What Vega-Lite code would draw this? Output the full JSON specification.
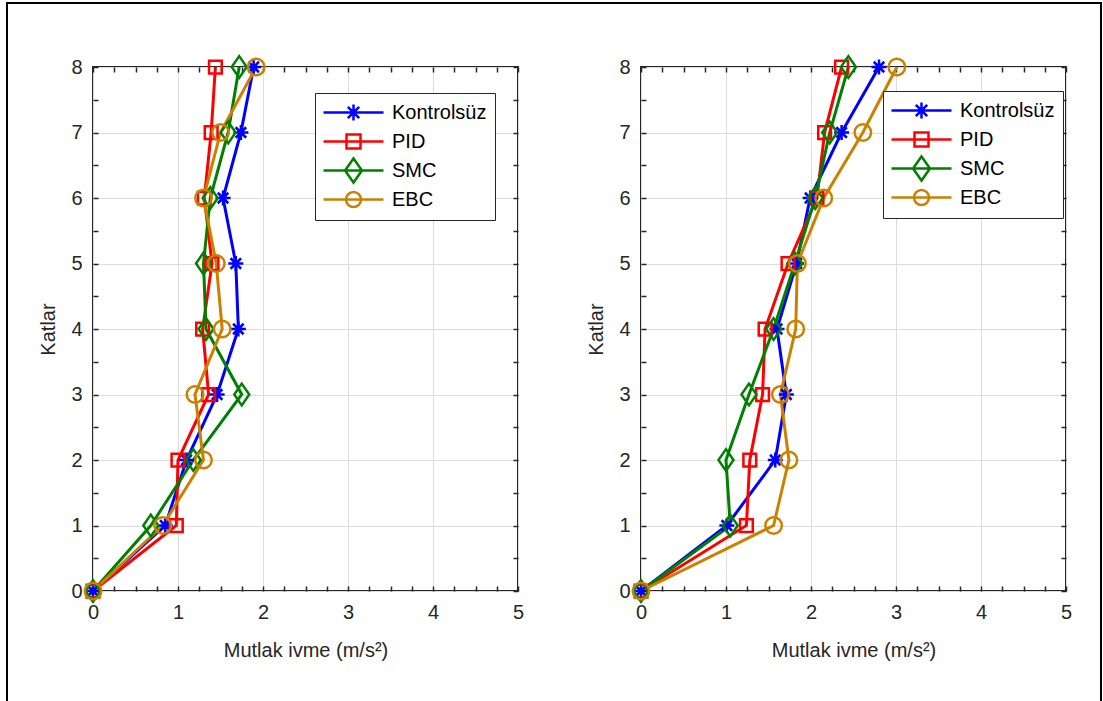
{
  "$schema": "https://vega.github.io/schema/vega-lite/v6.json",
  "background": "white",
  "padding": {"left": 6, "top": 2, "right": 0, "bottom": 0},
  "config": {"font": "Liberation Sans"},
  "datasets": {
    "d": [
      {"p": "a", "s": "Kontrolsüz", "k": 0, "v": 0},
      {"p": "a", "s": "Kontrolsüz", "k": 1, "v": 0.85},
      {"p": "a", "s": "Kontrolsüz", "k": 2, "v": 1.1},
      {"p": "a", "s": "Kontrolsüz", "k": 3, "v": 1.46},
      {"p": "a", "s": "Kontrolsüz", "k": 4, "v": 1.71},
      {"p": "a", "s": "Kontrolsüz", "k": 5, "v": 1.68},
      {"p": "a", "s": "Kontrolsüz", "k": 6, "v": 1.53},
      {"p": "a", "s": "Kontrolsüz", "k": 7, "v": 1.74},
      {"p": "a", "s": "Kontrolsüz", "k": 8, "v": 1.89},
      {"p": "a", "s": "PID", "k": 0, "v": 0},
      {"p": "a", "s": "PID", "k": 1, "v": 0.98},
      {"p": "a", "s": "PID", "k": 2, "v": 1.0},
      {"p": "a", "s": "PID", "k": 3, "v": 1.36},
      {"p": "a", "s": "PID", "k": 4, "v": 1.29},
      {"p": "a", "s": "PID", "k": 5, "v": 1.4},
      {"p": "a", "s": "PID", "k": 6, "v": 1.31},
      {"p": "a", "s": "PID", "k": 7, "v": 1.39},
      {"p": "a", "s": "PID", "k": 8, "v": 1.44},
      {"p": "a", "s": "SMC", "k": 0, "v": 0},
      {"p": "a", "s": "SMC", "k": 1, "v": 0.68},
      {"p": "a", "s": "SMC", "k": 2, "v": 1.18},
      {"p": "a", "s": "SMC", "k": 3, "v": 1.75},
      {"p": "a", "s": "SMC", "k": 4, "v": 1.33},
      {"p": "a", "s": "SMC", "k": 5, "v": 1.3},
      {"p": "a", "s": "SMC", "k": 6, "v": 1.38},
      {"p": "a", "s": "SMC", "k": 7, "v": 1.59},
      {"p": "a", "s": "SMC", "k": 8, "v": 1.72},
      {"p": "a", "s": "EBC", "k": 0, "v": 0},
      {"p": "a", "s": "EBC", "k": 1, "v": 0.82},
      {"p": "a", "s": "EBC", "k": 2, "v": 1.3},
      {"p": "a", "s": "EBC", "k": 3, "v": 1.2},
      {"p": "a", "s": "EBC", "k": 4, "v": 1.52},
      {"p": "a", "s": "EBC", "k": 5, "v": 1.45},
      {"p": "a", "s": "EBC", "k": 6, "v": 1.3},
      {"p": "a", "s": "EBC", "k": 7, "v": 1.5},
      {"p": "a", "s": "EBC", "k": 8, "v": 1.92},
      {"p": "b", "s": "Kontrolsüz", "k": 0, "v": 0},
      {"p": "b", "s": "Kontrolsüz", "k": 1, "v": 1.01},
      {"p": "b", "s": "Kontrolsüz", "k": 2, "v": 1.58},
      {"p": "b", "s": "Kontrolsüz", "k": 3, "v": 1.71},
      {"p": "b", "s": "Kontrolsüz", "k": 4, "v": 1.6},
      {"p": "b", "s": "Kontrolsüz", "k": 5, "v": 1.83},
      {"p": "b", "s": "Kontrolsüz", "k": 6, "v": 1.99},
      {"p": "b", "s": "Kontrolsüz", "k": 7, "v": 2.36},
      {"p": "b", "s": "Kontrolsüz", "k": 8, "v": 2.8},
      {"p": "b", "s": "PID", "k": 0, "v": 0},
      {"p": "b", "s": "PID", "k": 1, "v": 1.24},
      {"p": "b", "s": "PID", "k": 2, "v": 1.28},
      {"p": "b", "s": "PID", "k": 3, "v": 1.43},
      {"p": "b", "s": "PID", "k": 4, "v": 1.46},
      {"p": "b", "s": "PID", "k": 5, "v": 1.73},
      {"p": "b", "s": "PID", "k": 6, "v": 2.07},
      {"p": "b", "s": "PID", "k": 7, "v": 2.16},
      {"p": "b", "s": "PID", "k": 8, "v": 2.36},
      {"p": "b", "s": "SMC", "k": 0, "v": 0},
      {"p": "b", "s": "SMC", "k": 1, "v": 1.05},
      {"p": "b", "s": "SMC", "k": 2, "v": 1.0},
      {"p": "b", "s": "SMC", "k": 3, "v": 1.27},
      {"p": "b", "s": "SMC", "k": 4, "v": 1.56},
      {"p": "b", "s": "SMC", "k": 5, "v": 1.81},
      {"p": "b", "s": "SMC", "k": 6, "v": 2.05},
      {"p": "b", "s": "SMC", "k": 7, "v": 2.22},
      {"p": "b", "s": "SMC", "k": 8, "v": 2.44},
      {"p": "b", "s": "EBC", "k": 0, "v": 0},
      {"p": "b", "s": "EBC", "k": 1, "v": 1.56},
      {"p": "b", "s": "EBC", "k": 2, "v": 1.74},
      {"p": "b", "s": "EBC", "k": 3, "v": 1.64},
      {"p": "b", "s": "EBC", "k": 4, "v": 1.82},
      {"p": "b", "s": "EBC", "k": 5, "v": 1.84},
      {"p": "b", "s": "EBC", "k": 6, "v": 2.15},
      {"p": "b", "s": "EBC", "k": 7, "v": 2.61},
      {"p": "b", "s": "EBC", "k": 8, "v": 3.01}
    ]
  },
  "spacing": -696,
  "bounds": "flush",
  "align": "none",
  "vconcat": [
    {
      "width": 1094,
      "height": 760,
      "view": {"stroke": "black", "strokeWidth": 2},
      "data": {"values": []},
      "mark": "point"
    },
    {
      "spacing": 85,
      "bounds": "flush",
      "hconcat": [
        {
          "width": 1,
          "height": 1,
          "view": {"stroke": null},
          "data": {"values": []},
          "mark": "point"
        },
        {
          "spacing": 123,
          "bounds": "flush",
          "resolve": {"legend": {"color": "independent", "shape": "independent"}},
          "hconcat": [
            {
              "width": 425,
              "height": 524,
              "view": {"stroke": "#262626", "strokeWidth": 2},
              "data": {"name": "d"},
              "transform": [{"filter": "datum.p === 'a'"}],
              "resolve": {"axis": {"x": "independent", "y": "independent"}, "scale": {"color": "independent", "shape": "independent"}, "legend": {"color": "independent", "shape": "independent"}},
              "layer": [
                {
                  "mark": {"type": "line", "strokeWidth": 3},
                  "encoding": {
                    "x": {"field": "v", "type": "quantitative", "scale": {"domain": [0, 5], "nice": false},
                      "axis": {"orient": "bottom", "values": [0,0.25,0.5,0.75,1,1.25,1.5,1.75,2,2.25,2.5,2.75,3,3.25,3.5,3.75,4,4.25,4.5,4.75,5],
                        "labelExpr": "datum.value % 1 === 0 ? '' + datum.value : ''", "labelOverlap": false, "labelFlush": false,
                        "labelFont": "Liberation Sans", "labelFontSize": 20, "labelColor": "#262626", "labelPadding": 16,
                        "tickSize": -5, "tickColor": "#262626", "tickWidth": 1.5, "domain": false,
                        "grid": true, "gridColor": "#DCDCDC", "gridWidth": 1,
                        "gridOpacity": {"condition": {"test": "datum.value % 1 === 0", "value": 1}, "value": 0},
                        "title": "Mutlak ivme (m/s²)", "titleFont": "Liberation Sans", "titleFontSize": 20, "titleFontWeight": "normal", "titleColor": "#262626", "titlePadding": 18}},
                    "y": {"field": "k", "type": "quantitative", "scale": {"domain": [0, 8], "nice": false},
                      "axis": {"orient": "left", "values": [0,0.5,1,1.5,2,2.5,3,3.5,4,4.5,5,5.5,6,6.5,7,7.5,8],
                        "labelExpr": "datum.value % 1 === 0 ? '' + datum.value : ''", "labelOverlap": false, "labelFlush": false,
                        "labelFont": "Liberation Sans", "labelFontSize": 20, "labelColor": "#262626", "labelPadding": 16,
                        "tickSize": -5, "tickColor": "#262626", "tickWidth": 1.5, "domain": false,
                        "grid": true, "gridColor": "#DCDCDC", "gridWidth": 1,
                        "gridOpacity": {"condition": {"test": "datum.value % 1 === 0", "value": 1}, "value": 0},
                        "title": "Katlar", "titleFont": "Liberation Sans", "titleFontSize": 20, "titleFontWeight": "normal", "titleColor": "#262626", "titlePadding": 12}},
                    "color": {"field": "s", "type": "nominal", "scale": {"domain": ["Kontrolsüz", "PID", "SMC", "EBC"], "range": ["#0000FF", "#FF0000", "#008000", "#CC8000"]}, "legend": null},
                    "order": {"field": "k", "type": "quantitative"}
                  }
                },
                {
                  "mark": {"type": "point", "filled": false, "strokeWidth": 2.5, "size": 225, "opacity": 1},
                  "encoding": {
                    "x": {"field": "v", "type": "quantitative", "scale": {"domain": [0, 5], "nice": false},
                      "axis": {"orient": "top", "values": [0,0.25,0.5,0.75,1,1.25,1.5,1.75,2,2.25,2.5,2.75,3,3.25,3.5,3.75,4,4.25,4.5,4.75,5],
                        "labels": false, "tickSize": -5, "tickColor": "#262626", "tickWidth": 1.5, "domain": false, "grid": false, "title": null}},
                    "y": {"field": "k", "type": "quantitative", "scale": {"domain": [0, 8], "nice": false},
                      "axis": {"orient": "right", "values": [0,0.5,1,1.5,2,2.5,3,3.5,4,4.5,5,5.5,6,6.5,7,7.5,8],
                        "labels": false, "tickSize": -5, "tickColor": "#262626", "tickWidth": 1.5, "domain": false, "grid": false, "title": null}},
                    "color": {"field": "s", "type": "nominal", "scale": {"domain": ["Kontrolsüz", "PID", "SMC", "EBC"], "range": ["#0000FF", "#FF0000", "#008000", "#CC8000"]}, "legend": null},
                    "shape": {"field": "s", "type": "nominal", "scale": {"domain": ["Kontrolsüz", "PID", "SMC", "EBC"],
                      "range": ["M-1,0H1M0,-1V1M-0.7,-0.7L0.7,0.7M-0.7,0.7L0.7,-0.7", "M-0.85,-0.85H0.85V0.85H-0.85Z", "M0,-1.45L1,0L0,1.45L-1,0Z", "M1.1,0A1.1,1.1 0 1,1 -1.1,0A1.1,1.1 0 1,1 1.1,0Z"]}, "legend": null}
                  }
                },
                {
                  "transform": [{"filter": "datum.k < 0"}],
                  "mark": {"type": "point", "filled": false, "strokeWidth": 2.5, "size": 400, "opacity": 1},
                  "encoding": {
                    "color": {"field": "s", "type": "nominal", "scale": {"domain": ["Kontrolsüz", "PID", "SMC", "EBC"], "range": ["#0000FF", "#FF0000", "#008000", "#CC8000"]},
                      "legend": {"title": null, "orient": "none", "direction": "vertical", "legendX": 222, "legendY": 26,
                        "fillColor": "white", "strokeColor": "#262626", "padding": 8, "gridAlign": "all",
                        "symbolSize": 400, "symbolOffset": 19, "labelOffset": 27, "rowPadding": -7,
                        "labelFont": "Liberation Sans", "labelFontSize": 20, "labelColor": "black", "symbolStrokeWidth": 2.5, "symbolOpacity": 1}},
                    "shape": {"field": "s", "type": "nominal", "scale": {"domain": ["Kontrolsüz", "PID", "SMC", "EBC"],
                      "range": ["M-3,0H3M-0.8,0H0.8M0,-0.8V0.8M-0.57,-0.57L0.57,0.57M-0.57,0.57L0.57,-0.57", "M-3,0H3M-0.7,-0.7H0.7V0.7H-0.7Z", "M-3,0H3M0,-1.2L0.85,0L0,1.2L-0.85,0Z", "M-3,0H3M0.75,0A0.75,0.75 0 1,1 -0.75,0A0.75,0.75 0 1,1 0.75,0Z"]},
                      "legend": {"title": null, "orient": "none", "direction": "vertical", "legendX": 222, "legendY": 26,
                        "fillColor": "white", "strokeColor": "#262626", "padding": 8, "gridAlign": "all",
                        "symbolSize": 400, "symbolOffset": 19, "labelOffset": 27, "rowPadding": -7,
                        "labelFont": "Liberation Sans", "labelFontSize": 20, "labelColor": "black", "symbolStrokeWidth": 2.5, "symbolOpacity": 1}}
                  }
                }
              ]
            },
            {
              "width": 425,
              "height": 524,
              "view": {"stroke": "#262626", "strokeWidth": 2},
              "data": {"name": "d"},
              "transform": [{"filter": "datum.p === 'b'"}],
              "resolve": {"axis": {"x": "independent", "y": "independent"}, "scale": {"color": "independent", "shape": "independent"}, "legend": {"color": "independent", "shape": "independent"}},
              "layer": [
                {
                  "mark": {"type": "line", "strokeWidth": 3},
                  "encoding": {
                    "x": {"field": "v", "type": "quantitative", "scale": {"domain": [0, 5], "nice": false},
                      "axis": {"orient": "bottom", "values": [0,0.25,0.5,0.75,1,1.25,1.5,1.75,2,2.25,2.5,2.75,3,3.25,3.5,3.75,4,4.25,4.5,4.75,5],
                        "labelExpr": "datum.value % 1 === 0 ? '' + datum.value : ''", "labelOverlap": false, "labelFlush": false,
                        "labelFont": "Liberation Sans", "labelFontSize": 20, "labelColor": "#262626", "labelPadding": 16,
                        "tickSize": -5, "tickColor": "#262626", "tickWidth": 1.5, "domain": false,
                        "grid": true, "gridColor": "#DCDCDC", "gridWidth": 1,
                        "gridOpacity": {"condition": {"test": "datum.value % 1 === 0", "value": 1}, "value": 0},
                        "title": "Mutlak ivme (m/s²)", "titleFont": "Liberation Sans", "titleFontSize": 20, "titleFontWeight": "normal", "titleColor": "#262626", "titlePadding": 18}},
                    "y": {"field": "k", "type": "quantitative", "scale": {"domain": [0, 8], "nice": false},
                      "axis": {"orient": "left", "values": [0,0.5,1,1.5,2,2.5,3,3.5,4,4.5,5,5.5,6,6.5,7,7.5,8],
                        "labelExpr": "datum.value % 1 === 0 ? '' + datum.value : ''", "labelOverlap": false, "labelFlush": false,
                        "labelFont": "Liberation Sans", "labelFontSize": 20, "labelColor": "#262626", "labelPadding": 16,
                        "tickSize": -5, "tickColor": "#262626", "tickWidth": 1.5, "domain": false,
                        "grid": true, "gridColor": "#DCDCDC", "gridWidth": 1,
                        "gridOpacity": {"condition": {"test": "datum.value % 1 === 0", "value": 1}, "value": 0},
                        "title": "Katlar", "titleFont": "Liberation Sans", "titleFontSize": 20, "titleFontWeight": "normal", "titleColor": "#262626", "titlePadding": 12}},
                    "color": {"field": "s", "type": "nominal", "scale": {"domain": ["Kontrolsüz", "PID", "SMC", "EBC"], "range": ["#0000FF", "#FF0000", "#008000", "#CC8000"]}, "legend": null},
                    "order": {"field": "k", "type": "quantitative"}
                  }
                },
                {
                  "mark": {"type": "point", "filled": false, "strokeWidth": 2.5, "size": 225, "opacity": 1},
                  "encoding": {
                    "x": {"field": "v", "type": "quantitative", "scale": {"domain": [0, 5], "nice": false},
                      "axis": {"orient": "top", "values": [0,0.25,0.5,0.75,1,1.25,1.5,1.75,2,2.25,2.5,2.75,3,3.25,3.5,3.75,4,4.25,4.5,4.75,5],
                        "labels": false, "tickSize": -5, "tickColor": "#262626", "tickWidth": 1.5, "domain": false, "grid": false, "title": null}},
                    "y": {"field": "k", "type": "quantitative", "scale": {"domain": [0, 8], "nice": false},
                      "axis": {"orient": "right", "values": [0,0.5,1,1.5,2,2.5,3,3.5,4,4.5,5,5.5,6,6.5,7,7.5,8],
                        "labels": false, "tickSize": -5, "tickColor": "#262626", "tickWidth": 1.5, "domain": false, "grid": false, "title": null}},
                    "color": {"field": "s", "type": "nominal", "scale": {"domain": ["Kontrolsüz", "PID", "SMC", "EBC"], "range": ["#0000FF", "#FF0000", "#008000", "#CC8000"]}, "legend": null},
                    "shape": {"field": "s", "type": "nominal", "scale": {"domain": ["Kontrolsüz", "PID", "SMC", "EBC"],
                      "range": ["M-1,0H1M0,-1V1M-0.7,-0.7L0.7,0.7M-0.7,0.7L0.7,-0.7", "M-0.85,-0.85H0.85V0.85H-0.85Z", "M0,-1.45L1,0L0,1.45L-1,0Z", "M1.1,0A1.1,1.1 0 1,1 -1.1,0A1.1,1.1 0 1,1 1.1,0Z"]}, "legend": null}
                  }
                },
                {
                  "transform": [{"filter": "datum.k < 0"}],
                  "mark": {"type": "point", "filled": false, "strokeWidth": 2.5, "size": 400, "opacity": 1},
                  "encoding": {
                    "color": {"field": "s", "type": "nominal", "scale": {"domain": ["Kontrolsüz", "PID", "SMC", "EBC"], "range": ["#0000FF", "#FF0000", "#008000", "#CC8000"]},
                      "legend": {"title": null, "orient": "none", "direction": "vertical", "legendX": 242, "legendY": 24,
                        "fillColor": "white", "strokeColor": "#262626", "padding": 8, "gridAlign": "all",
                        "symbolSize": 400, "symbolOffset": 19, "labelOffset": 27, "rowPadding": -7,
                        "labelFont": "Liberation Sans", "labelFontSize": 20, "labelColor": "black", "symbolStrokeWidth": 2.5, "symbolOpacity": 1}},
                    "shape": {"field": "s", "type": "nominal", "scale": {"domain": ["Kontrolsüz", "PID", "SMC", "EBC"],
                      "range": ["M-3,0H3M-0.8,0H0.8M0,-0.8V0.8M-0.57,-0.57L0.57,0.57M-0.57,0.57L0.57,-0.57", "M-3,0H3M-0.7,-0.7H0.7V0.7H-0.7Z", "M-3,0H3M0,-1.2L0.85,0L0,1.2L-0.85,0Z", "M-3,0H3M0.75,0A0.75,0.75 0 1,1 -0.75,0A0.75,0.75 0 1,1 0.75,0Z"]},
                      "legend": {"title": null, "orient": "none", "direction": "vertical", "legendX": 242, "legendY": 24,
                        "fillColor": "white", "strokeColor": "#262626", "padding": 8, "gridAlign": "all",
                        "symbolSize": 400, "symbolOffset": 19, "labelOffset": 27, "rowPadding": -7,
                        "labelFont": "Liberation Sans", "labelFontSize": 20, "labelColor": "black", "symbolStrokeWidth": 2.5, "symbolOpacity": 1}}
                  }
                }
              ]
            }
          ]
        }
      ]
    }
  ]
}
